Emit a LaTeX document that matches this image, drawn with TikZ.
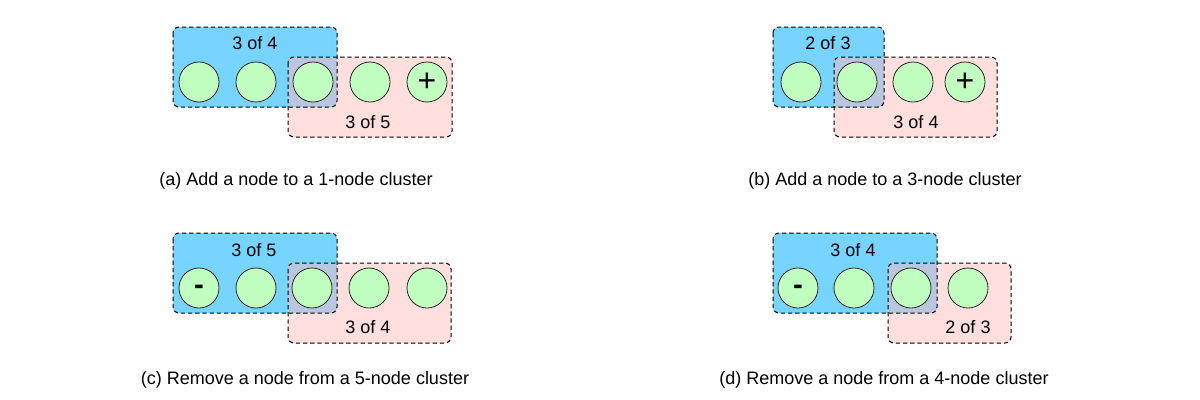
\documentclass[tikz,border=0pt]{standalone}
\usepackage{fontspec}
\setmainfont{Liberation Sans}
\definecolor{oldblue}{RGB}{118,212,255}
\definecolor{newpink}{RGB}{255,222,222}
\definecolor{shared}{RGB}{184,199,222}
\definecolor{membergreen}{RGB}{192,255,192}
% old cluster (#1)-(#2), new cluster (#3)-(#4)
\newcommand{\boxpair}[4]{%
  \fill[oldblue, rounded corners=4.5pt] (#1) rectangle (#2);
  \fill[newpink, rounded corners=4.5pt] (#3) rectangle (#4);
  \begin{scope}
    \clip[rounded corners=4.5pt] (#1) rectangle (#2);
    \fill[shared, rounded corners=4.5pt] (#3) rectangle (#4);
  \end{scope}
  \draw[box] (#1) rectangle (#2);
  \draw[box] (#3) rectangle (#4);
}
\begin{document}
\begin{tikzpicture}[
  x=0.75pt, y=-0.75pt,
  box/.style={rounded corners=4.5pt, dash pattern=on 3.2pt off 2.2pt, line width=0.75pt},
  member/.style={circle, draw=black!85, fill=membergreen, minimum size=30pt, inner sep=0pt, line width=0.6pt},
  count/.style={font=\fontsize{13.5}{16}\selectfont},
  caption/.style={font=\fontsize{13.5}{16}\selectfont},
  sign/.style={font=\fontsize{24}{24}\selectfont},
  minus/.style={font=\fontsize{22}{22}\selectfont\bfseries, yshift=-1.5pt}
]
\useasboundingbox (0,0) rectangle (1200,400);

% (a)
\boxpair{173,27}{337,107}{288,57}{452,137}
\foreach \x/\n in {199/1,256/2,313/3,370/4}
  \node[member] (a\n) at (\x,82) {};
\node[member, sign] (a5) at (427,82) {+};
\node[count] (aold) at (255,43) {3 of 4};
\node[count] (anew) at (368,122) {3 of 5};
\node[caption] (acap) at (296,181) {(a) Add a node to a 1-node cluster};

% (b)
\boxpair{773,27}{884,107}{834,57}{997,137}
\foreach \x/\n in {801/1,857/2,913/3}
  \node[member] (b\n) at (\x,82) {};
\node[member, sign] (b4) at (965,82) {+};
\node[count] (bold) at (828,43) {2 of 3};
\node[count] (bnew) at (916,122) {3 of 4};
\node[caption] (bcap) at (885,181) {(b) Add a node to a 3-node cluster};

% (c)
\boxpair{173,233}{337,313}{288,263}{451,343}
\node[member] (c1) at (199,288) {};
\node[minus] (c1sign) at (c1) {-};
\foreach \x/\n in {256/2,312/3,369/4,427/5}
  \node[member] (c\n) at (\x,288) {};
\node[count] (cold) at (254,250) {3 of 5};
\node[count] (cnew) at (368,327) {3 of 4};
\node[caption] (ccap) at (305,380) {(c) Remove a node from a 5-node cluster};

% (d)
\boxpair{773,233}{937,313}{888,263}{1011,343}
\node[member] (d1) at (798,288) {};
\node[minus] (d1sign) at (d1) {-};
\foreach \x/\n in {854/2,911/3,968/4}
  \node[member] (d\n) at (\x,288) {};
\node[count] (dold) at (853,250) {3 of 4};
\node[count] (dnew) at (968,327) {2 of 3};
\node[caption] (dcap) at (884,380) {(d) Remove a node from a 4-node cluster};
\end{tikzpicture}
\end{document}
